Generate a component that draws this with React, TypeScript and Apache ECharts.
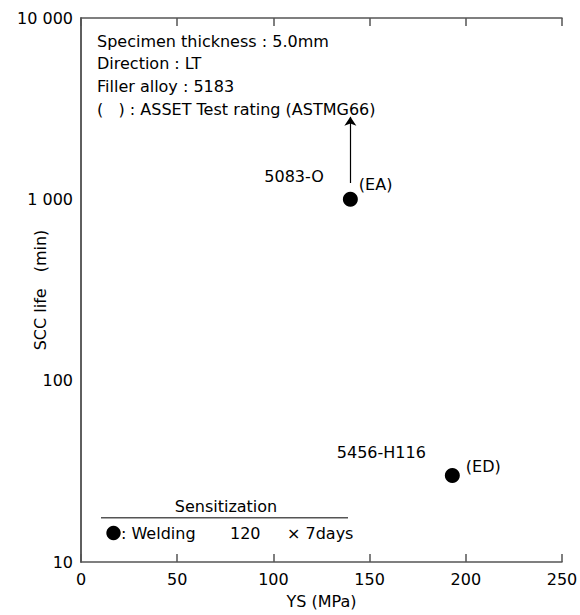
import React, { useEffect, useRef } from "react";
import * as echarts from "echarts";

// ---- data ----
const alloys = ["5083-O", "5456-H116"];
const yieldStrength = [140, 193]; // YS (MPa)
const sccLife = [1000, 30]; // SCC life (min)
const ratings = ["(EA)", "(ED)"];
const arrowRange = [1230, 2850]; // arrow on 5083-O (life longer than tested)
const xMin = 0;
const xMax = 250;
const xStep = 50;
const yMin = 10;
const yMax = 10000;
const notes = [
  "Specimen thickness : 5.0mm",
  "Direction : LT",
  "Filler alloy : 5183",
  "(   ) : ASSET Test rating (ASTMG66)",
];
const legendTitle = "Sensitization";
const legendItems = [": Welding", "120", "× 7days"];

const FONT = "DejaVu Sans";
const AXIS_COLOR = "#555";

function fmtNum(v: number): string {
  return String(Math.round(v)).replace(/\B(?=(\d{3})+(?!\d))/g, " ");
}

export default function App() {
  const ref = useRef<HTMLDivElement>(null);

  useEffect(() => {
    if (!ref.current) return;
    const chart = echarts.init(ref.current, undefined, { renderer: "svg" });

    const points = alloys.map((name, i) => ({
      name,
      value: [yieldStrength[i], sccLife[i]],
      label: {
        show: true,
        formatter: ratings[i],
        position: "right",
        distance: i === 0 ? 1 : 6,
        offset: i === 0 ? [0, -15] : [0, -9],
        color: "#000",
        opacity: 1,
        fontFamily: FONT,
        fontSize: 16,
      },
    }));

    const nameLabels = alloys.map((name, i) => ({
      name,
      value: [yieldStrength[i], sccLife[i]],
    }));

    const noteGraphics = notes.map((t, i) => ({
      type: "text",
      left: 97,
      top: 33 + i * 22.7,
      style: {
        text: t,
        fill: "#000",
        font: `16px "${FONT}"`,
      },
    }));

    const option: any = {
      animation: false,
      backgroundColor: "#fff",
      grid: {
        left: 81,
        top: 18,
        right: 18,
        bottom: 53,
        containLabel: false,
        outerBoundsMode: "none",
      },
      xAxis: [
        {
          type: "value",
          min: xMin,
          max: xMax,
          interval: xStep,
          position: "bottom",
          name: "YS (MPa)",
          nameLocation: "middle",
          nameGap: 31,
          nameMoveOverlap: false,
          nameTextStyle: { color: "#000", fontFamily: FONT, fontSize: 16 },
          axisLine: { show: true, lineStyle: { color: AXIS_COLOR, width: 1.5 } },
          axisTick: { show: true, inside: true, length: 8, lineStyle: { color: AXIS_COLOR, width: 1.5 } },
          axisLabel: { color: "#000", fontFamily: FONT, fontSize: 16, margin: 9 },
          splitLine: { show: false },
        },
        {
          type: "value",
          min: xMin,
          max: xMax,
          interval: xStep,
          position: "top",
          axisLine: { show: true, lineStyle: { color: AXIS_COLOR, width: 1.5 } },
          axisTick: { show: true, inside: true, length: 8, lineStyle: { color: AXIS_COLOR, width: 1.5 } },
          axisLabel: { show: false },
          splitLine: { show: false },
        },
      ],
      yAxis: [
        {
          type: "log",
          logBase: 10,
          min: yMin,
          max: yMax,
          position: "left",
          name: "SCC life\u3000(min)",
          nameLocation: "middle",
          nameGap: 33,
          nameMoveOverlap: false,
          nameTextStyle: { color: "#000", fontFamily: FONT, fontSize: 16 },
          axisLine: { show: true, lineStyle: { color: AXIS_COLOR, width: 1.5 } },
          axisTick: { show: false },
          axisLabel: {
            color: "#000",
            fontFamily: FONT,
            fontSize: 16,
            margin: 8,
            formatter: (v: number) => fmtNum(v),
          },
          splitLine: { show: false },
          minorTick: { show: false },
        },
        {
          type: "log",
          logBase: 10,
          min: yMin,
          max: yMax,
          position: "right",
          axisLine: { show: true, lineStyle: { color: AXIS_COLOR, width: 1.5 } },
          axisTick: { show: false },
          axisLabel: { show: false },
          splitLine: { show: false },
        },
      ],
      series: [
        {
          type: "scatter",
          xAxisIndex: 0,
          yAxisIndex: 0,
          symbol: "circle",
          symbolSize: 15,
          itemStyle: { color: "#000", opacity: 1 },
          data: points,
          markLine: {
            silent: true,
            symbol: ["none", "arrow"],
            symbolSize: 9,
            lineStyle: { color: "#000", width: 1.2, type: "solid", opacity: 1 },
            label: { show: false },
            data: [
              [
                { coord: [yieldStrength[0], arrowRange[0]] },
                { coord: [yieldStrength[0], arrowRange[1]] },
              ],
            ],
          },
          z: 3,
        },
        {
          type: "scatter",
          xAxisIndex: 0,
          yAxisIndex: 0,
          symbol: "circle",
          symbolSize: 15,
          itemStyle: { color: "rgba(0,0,0,0)", opacity: 1 },
          data: nameLabels,
          label: {
            show: true,
            formatter: "{b}",
            position: "left",
            distance: 19,
            offset: [0, -23],
            color: "#000",
            opacity: 1,
            fontFamily: FONT,
            fontSize: 16,
          },
          z: 2,
        },
      ],
      graphic: [
        ...noteGraphics,
        {
          type: "text",
          x: 226,
          y: 506,
          style: {
            text: legendTitle,
            fill: "#000",
            font: `16px "${FONT}"`,
            textAlign: "center",
            textVerticalAlign: "middle",
          },
        },
        {
          type: "line",
          shape: { x1: 101, y1: 517.7, x2: 348, y2: 517.7 },
          style: { stroke: AXIS_COLOR, lineWidth: 1.5 },
        },
        {
          type: "circle",
          shape: { cx: 113.5, cy: 533, r: 7.2 },
          style: { fill: "#000" },
        },
        {
          type: "text",
          x: 121,
          y: 533,
          style: {
            text: legendItems[0],
            fill: "#000",
            font: `16px "${FONT}"`,
            textVerticalAlign: "middle",
          },
        },
        {
          type: "text",
          x: 230,
          y: 533,
          style: {
            text: legendItems[1],
            fill: "#000",
            font: `16px "${FONT}"`,
            textVerticalAlign: "middle",
          },
        },
        {
          type: "text",
          x: 287,
          y: 533,
          style: {
            text: legendItems[2],
            fill: "#000",
            font: `16px "${FONT}"`,
            textVerticalAlign: "middle",
          },
        },
      ],
    };

    chart.setOption(option);
    return () => chart.dispose();
  }, []);

  return (
    <div
      ref={ref}
      style={{ position: "fixed", left: 0, top: 0, width: 580, height: 615 }}
    />
  );
}
